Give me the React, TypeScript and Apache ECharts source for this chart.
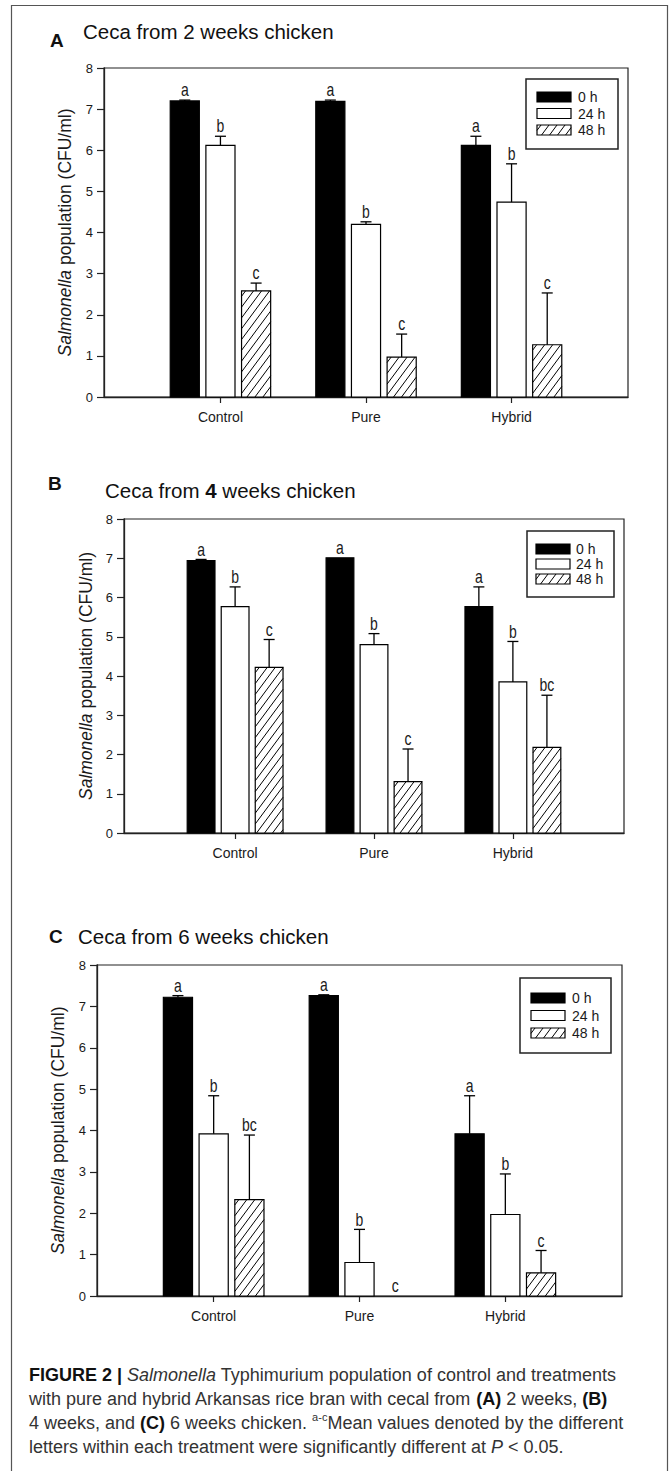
import React, { useEffect, useRef } from "react";
import * as echarts from "echarts";

// ---------------- data ----------------
const categories = ["Control", "Pure", "Hybrid"];
const timeLabels = ["0 h", "24 h", "48 h"];
const yMin = 0;
const yMax = 8;
const yInterval = 1;

// Panel A – ceca from 2 weeks chicken
const a0h = [7.2, 7.19, 6.12];
const a0hErr = [0.02, 0.03, 0.22];
const a24h = [6.12, 4.2, 4.74];
const a24hErr = [0.22, 0.06, 0.93];
const a48h = [2.58, 0.97, 1.27];
const a48hErr = [0.19, 0.56, 1.26];
const aLetters0h = ["a", "a", "a"];
const aLetters24h = ["b", "b", "b"];
const aLetters48h = ["c", "c", "c"];

// Panel B – ceca from 4 weeks chicken
const b0h = [6.94, 7.01, 5.77];
const b0hErr = [0.03, 0, 0.5];
const b24h = [5.77, 4.8, 3.85];
const b24hErr = [0.5, 0.28, 1.03];
const b48h = [4.22, 1.31, 2.18];
const b48hErr = [0.71, 0.83, 1.33];
const bLetters0h = ["a", "a", "a"];
const bLetters24h = ["b", "b", "b"];
const bLetters48h = ["c", "c", "bc"];

// Panel C – ceca from 6 weeks chicken
const c0h = [7.22, 7.26, 3.92];
const c0hErr = [0.04, 0.02, 0.92];
const c24h = [3.92, 0.81, 1.97];
const c24hErr = [0.92, 0.8, 0.98];
const c48h = [2.33, 0, 0.56];
const c48hErr = [1.56, 0, 0.54];
const cLetters0h = ["a", "a", "a"];
const cLetters24h = ["b", "b", "b"];
const cLetters48h = ["bc", "c", "c"];

// ---------------- layout / style ----------------
const FONT = "'Liberation Sans', Arial, Helvetica, sans-serif";
const INK = "#1a1a1a";
const BAR_W = 0.2;
const OFFSETS = [-0.245, 0, 0.245];
const CAP = 11;
const HATCH_DX = 8;
const HATCH_K = 1.35;

const panels = [
  {
    tag: "A",
    weeks: "2",
    values: [a0h, a24h, a48h],
    errs: [a0hErr, a24hErr, a48hErr],
    letters: [aLetters0h, aLetters24h, aLetters48h],
    grid: { left: 104, top: 68, width: 524, height: 329 },
    tagPos: [50, 42],
    titlePos: [83, 33],
    legend: { x: 526, y: 79, w: 92, h: 70, sx: 537, tx: 578, rows: [97, 113.5, 130] },
    nameGap: 30,
  },
  {
    tag: "B",
    weeks: "4",
    values: [b0h, b24h, b48h],
    errs: [b0hErr, b24hErr, b48hErr],
    letters: [bLetters0h, bLetters24h, bLetters48h],
    grid: { left: 124, top: 519, width: 500, height: 314 },
    tagPos: [48, 485],
    titlePos: [105, 492],
    legend: { x: 527, y: 531, w: 87, h: 66, sx: 536, tx: 576, rows: [549, 564, 579] },
    nameGap: 29,
  },
  {
    tag: "C",
    weeks: "6",
    values: [c0h, c24h, c48h],
    errs: [c0hErr, c24hErr, c48hErr],
    letters: [cLetters0h, cLetters24h, cLetters48h],
    grid: { left: 97, top: 965, width: 525, height: 331 },
    tagPos: [49, 938],
    titlePos: [78, 938],
    legend: { x: 520, y: 978, w: 91, h: 75, sx: 531, tx: 572, rows: [998, 1015.5, 1033] },
    nameGap: 30,
  },
];

function hatchLines(x0: number, y0: number, x1: number, y1: number) {
  const out: any[] = [];
  const cStart = y0 + HATCH_K * x0;
  const cEnd = y1 + HATCH_K * x1;
  const step = HATCH_K * HATCH_DX;
  for (let c = cStart + step / 2; c < cEnd; c += step) {
    const xa = Math.max(x0, (c - y1) / HATCH_K);
    const xb = Math.min(x1, (c - y0) / HATCH_K);
    if (xb - xa < 0.3) continue;
    out.push({
      type: "line",
      shape: { x1: xa, y1: c - HATCH_K * xa, x2: xb, y2: c - HATCH_K * xb },
      style: { stroke: "#000", lineWidth: 1 },
      silent: true,
    });
  }
  return out;
}

function makeRender(p: number, t: number) {
  const letters = panels[p].letters[t];
  return (params: any, api: any) => {
    const ci = api.value(0);
    const v = api.value(1);
    const e = api.value(2);
    const cx = ci + OFFSETS[t];
    const tl = api.coord([cx - BAR_W / 2, v]);
    const br = api.coord([cx + BAR_W / 2, yMin]);
    const x0 = tl[0];
    const y0 = tl[1];
    const x1 = br[0];
    const y1 = br[1];
    const mid = (x0 + x1) / 2;
    const children: any[] = [];
    if (y1 - y0 > 0.5) {
      children.push({
        type: "rect",
        shape: { x: x0, y: y0, width: x1 - x0, height: y1 - y0 },
        style: { fill: t === 0 ? "#000" : "#fff", stroke: "#000", lineWidth: 1.2 },
      });
      if (t === 2) children.push(...hatchLines(x0, y0, x1, y1));
    }
    let topY = y0;
    if (e > 0.005) {
      const top = api.coord([cx, v + e]);
      children.push({
        type: "line",
        shape: { x1: mid, y1: y0, x2: mid, y2: top[1] },
        style: { stroke: "#000", lineWidth: 1.3 },
      });
      children.push({
        type: "line",
        shape: { x1: mid - CAP / 2, y1: top[1], x2: mid + CAP / 2, y2: top[1] },
        style: { stroke: "#000", lineWidth: 1.3 },
      });
      topY = top[1];
    }
    children.push({
      type: "text",
      x: mid,
      y: topY - 1.5,
      scaleY: 1.3,
      style: {
        text: letters[params.dataIndex],
        x: 0,
        y: 0,
        align: "center",
        verticalAlign: "bottom",
        fontSize: 14,
        fontFamily: FONT,
        fill: INK,
      },
    });
    return { type: "group", children };
  };
}

function buildOption() {
  const grids: any[] = [];
  const xAxes: any[] = [];
  const yAxes: any[] = [];
  const series: any[] = [];
  const graphics: any[] = [];

  // outer frame
  graphics.push({
    type: "rect",
    shape: { x: 11.5, y: 5.5, width: 656, height: 1500 },
    style: { fill: "none", stroke: "#555", lineWidth: 1.2 },
    silent: true,
    z: 0,
  });

  panels.forEach((pn, p) => {
    grids.push({
      ...pn.grid,
      show: true,
      borderColor: "#222",
      borderWidth: 1.2,
      backgroundColor: "transparent",
    });
    xAxes.push({
      type: "value",
      gridIndex: p,
      min: -0.8,
      max: 2.8,
      axisLine: { show: true, onZero: false, lineStyle: { color: "#222", width: 1.3 } },
      axisTick: { show: true, customValues: [0, 1, 2], length: 6, lineStyle: { color: "#222", width: 1.2 } },
      axisLabel: {
        show: true,
        customValues: [0, 1, 2],
        formatter: (val: number) => categories[Math.round(val)] ?? "",
        fontSize: 14,
        fontFamily: FONT,
        color: INK,
        margin: 13,
      },
      splitLine: { show: false },
    });
    yAxes.push({
      type: "value",
      gridIndex: p,
      min: yMin,
      max: yMax,
      interval: yInterval,
      name: "{i|Salmonella} population (CFU/ml)",
      nameLocation: "middle",
      nameGap: pn.nameGap,
      nameTextStyle: {
        fontSize: 17.5,
        fontFamily: FONT,
        color: INK,
        rich: { i: { fontStyle: "italic", fontSize: 17.5, fontFamily: FONT, color: INK } },
      },
      axisLine: { show: true, onZero: false, lineStyle: { color: "#222", width: 1.3 } },
      axisTick: { show: true, inside: false, length: 7, lineStyle: { color: "#222", width: 1.2 } },
      axisLabel: { fontSize: 13, fontFamily: FONT, color: INK, margin: 11 },
      splitLine: { show: false },
    });
    for (let t = 0; t < 3; t++) {
      series.push({
        type: "custom",
        name: timeLabels[t],
        xAxisIndex: p,
        yAxisIndex: p,
        clip: false,
        silent: true,
        data: categories.map((_, i) => [i, pn.values[t][i], pn.errs[t][i]]),
        encode: { x: 0, y: 1 },
        renderItem: makeRender(p, t),
      });
    }

    // panel tag and title
    graphics.push({
      type: "text",
      left: pn.tagPos[0],
      top: pn.tagPos[1] - 11,
      style: { text: pn.tag, fontSize: 19, fontWeight: "bold", fontFamily: FONT, fill: "#111" },
      silent: true,
    });
    graphics.push({
      type: "text",
      left: pn.titlePos[0],
      top: pn.titlePos[1] - 12,
      style: {
        text: "Ceca from " + (p === 1 ? "{b|" + pn.weeks + "}" : pn.weeks) + " weeks chicken",
        fontSize: 20.5,
        fontFamily: FONT,
        fill: "#111",
        rich: { b: { fontSize: 20.5, fontWeight: "bold", fontFamily: FONT, fill: "#111" } },
      },
      silent: true,
    });

    // legend box
    const lg = pn.legend;
    graphics.push({
      type: "rect",
      shape: { x: lg.x, y: lg.y, width: lg.w, height: lg.h },
      style: { fill: "#fff", stroke: "#222", lineWidth: 1.5 },
      silent: true,
      z: 10,
    });
    lg.rows.forEach((ry, t) => {
      const sw = 34;
      const sh = 10;
      const sx = lg.sx;
      const sy = ry - sh / 2;
      graphics.push({
        type: "rect",
        shape: { x: sx, y: sy, width: sw, height: sh },
        style: { fill: t === 0 ? "#000" : "#fff", stroke: "#000", lineWidth: 1.2 },
        silent: true,
        z: 11,
      });
      if (t === 2) {
        hatchLines(sx, sy, sx + sw, sy + sh).forEach((l) => graphics.push({ ...l, z: 12 }));
      }
      graphics.push({
        type: "text",
        x: lg.tx,
        y: ry,
        style: {
          text: timeLabels[t],
          fontSize: 14,
          fontFamily: FONT,
          fill: INK,
          verticalAlign: "middle",
          align: "left",
        },
        silent: true,
        z: 12,
      });
    });
  });

  // caption
  const capLines = [
    "{b|FIGURE 2 |} {i|Salmonella} Typhimurium population of control and treatments",
    "with pure and hybrid Arkansas rice bran with cecal from {b|(A)} 2 weeks, {b|(B)}",
    "4 weeks, and {b|(C)} 6 weeks chicken. {sup|a-c}Mean values denoted by the different",
    "letters within each treatment were significantly different at {i|P} < 0.05.",
  ];
  graphics.push({
    type: "text",
    left: 29,
    top: 1363,
    style: {
      text: capLines.join("\n"),
      fontSize: 18,
      lineHeight: 24,
      fontFamily: FONT,
      fill: "#333",
      rich: {
        b: { fontSize: 18, fontWeight: "bold", fontFamily: FONT, fill: "#111", lineHeight: 24 },
        i: { fontSize: 18, fontStyle: "italic", fontFamily: FONT, fill: "#333", lineHeight: 24 },
        sup: { fontSize: 11, fontFamily: FONT, fill: "#333", lineHeight: 14, verticalAlign: "top" },
      },
    },
    silent: true,
  });

  return {
    animation: false,
    backgroundColor: "#fff",
    grid: grids,
    xAxis: xAxes,
    yAxis: yAxes,
    series,
    graphic: graphics,
  };
}

export default function App() {
  const ref = useRef<HTMLDivElement>(null);
  useEffect(() => {
    if (!ref.current) return;
    const chart = echarts.init(ref.current, undefined, { renderer: "svg" });
    chart.setOption(buildOption() as any);
    return () => chart.dispose();
  }, []);
  return (
    <div
      ref={ref}
      style={{ position: "absolute", left: 0, top: 0, width: 670, height: 1471, background: "#fff" }}
    />
  );
}
